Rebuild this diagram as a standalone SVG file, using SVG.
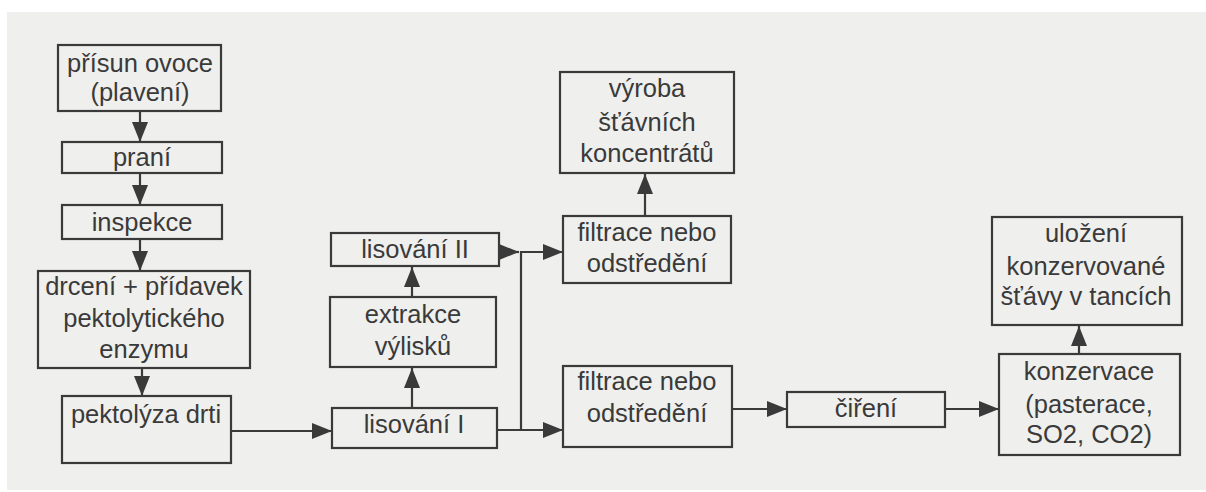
<svg xmlns="http://www.w3.org/2000/svg" width="1206" height="492" viewBox="0 0 1206 492">
<defs>
<marker id="ah" markerUnits="userSpaceOnUse" markerWidth="20" markerHeight="16" refX="20" refY="8" orient="auto">
<path d="M0,0 L20,8 L0,16 Z" fill="#3a3a3a"/>
</marker>
<style>
.box{fill:none;stroke:#3a3a3a;stroke-width:2.2}
.t{font-family:"Liberation Sans",Arial,sans-serif;font-size:25.5px;fill:#3a3a3a;text-anchor:middle}
.c{fill:none;stroke:#3a3a3a;stroke-width:2.2}
</style>
</defs>
<rect x="0" y="0" width="1206" height="492" fill="#ffffff"/>
<rect x="7" y="12" width="1199" height="478" fill="#efefed"/>
<g id="connectors">
<path class="c" d="M140,111 V142" marker-end="url(#ah)"/>
<path class="c" d="M140,173 V205" marker-end="url(#ah)"/>
<path class="c" d="M140,239 V271" marker-end="url(#ah)"/>
<path class="c" d="M142,368 V396" marker-end="url(#ah)"/>
<path class="c" d="M231,431 H332" marker-end="url(#ah)"/>
<path class="c" d="M412,408 V368" marker-end="url(#ah)"/>
<path class="c" d="M412,297 V267" marker-end="url(#ah)"/>
<path class="c" d="M499,252 H519" marker-end="url(#ah)"/>
<path class="c" d="M497,430 H563" marker-end="url(#ah)"/>
<path class="c" d="M521,430 V252 H563" marker-end="url(#ah)"/>
<path class="c" d="M645,216 V174" marker-end="url(#ah)"/>
<path class="c" d="M732,409 H787" marker-end="url(#ah)"/>
<path class="c" d="M945,409 H999" marker-end="url(#ah)"/>
<path class="c" d="M1079,354 V326" marker-end="url(#ah)"/>
</g>
<g id="n1"><rect class="box" x="58" y="45" width="163" height="66"/>
<text class="t" x="140" y="72">přísun ovoce</text><text class="t" x="140" y="101">(plavení)</text></g>
<g id="n2"><rect class="box" x="62" y="142" width="160" height="31"/>
<text class="t" x="142" y="166">praní</text></g>
<g id="n3"><rect class="box" x="62" y="205" width="160" height="34"/>
<text class="t" x="142" y="231">inspekce</text></g>
<g id="n4"><rect class="box" x="38" y="271" width="212" height="97"/>
<text class="t" x="144" y="295">drcení + přídavek</text><text class="t" x="144" y="327">pektolytického</text><text class="t" x="144" y="358">enzymu</text></g>
<g id="n5"><rect class="box" x="62" y="396" width="169" height="67"/>
<text class="t" x="146" y="423">pektolýza drti</text></g>
<g id="n6"><rect class="box" x="332" y="408" width="165" height="40"/>
<text class="t" x="414" y="433">lisování I</text></g>
<g id="n7"><rect class="box" x="330" y="297" width="166" height="70"/>
<text class="t" x="413" y="323">extrakce</text><text class="t" x="413" y="355">výlisků</text></g>
<g id="n8"><rect class="box" x="331" y="233" width="168" height="33"/>
<text class="t" x="415" y="258">lisování II</text></g>
<g id="n9"><rect class="box" x="563" y="216" width="168" height="67"/>
<text class="t" x="647" y="241">filtrace nebo</text><text class="t" x="647" y="272">odstředění</text></g>
<g id="n10"><rect class="box" x="560" y="72" width="174" height="101"/>
<text class="t" x="647" y="97">výroba</text><text class="t" x="647" y="131">šťávních</text><text class="t" x="647" y="162">koncentrátů</text></g>
<g id="n11"><rect class="box" x="563" y="366" width="169" height="81"/>
<text class="t" x="647" y="390">filtrace nebo</text><text class="t" x="647" y="422">odstředění</text></g>
<g id="n12"><rect class="box" x="787" y="392" width="158" height="35"/>
<text class="t" x="866" y="417">čiření</text></g>
<g id="n13"><rect class="box" x="999" y="354" width="181" height="101"/>
<text class="t" x="1089" y="380">konzervace</text><text class="t" x="1089" y="413">(pasterace,</text><text class="t" x="1089" y="443">SO2, CO2)</text></g>
<g id="n14"><rect class="box" x="992" y="217" width="190" height="108"/>
<text class="t" x="1086" y="242">uložení</text><text class="t" x="1086" y="275">konzervované</text><text class="t" x="1086" y="305">šťávy v tancích</text></g>
</svg>
